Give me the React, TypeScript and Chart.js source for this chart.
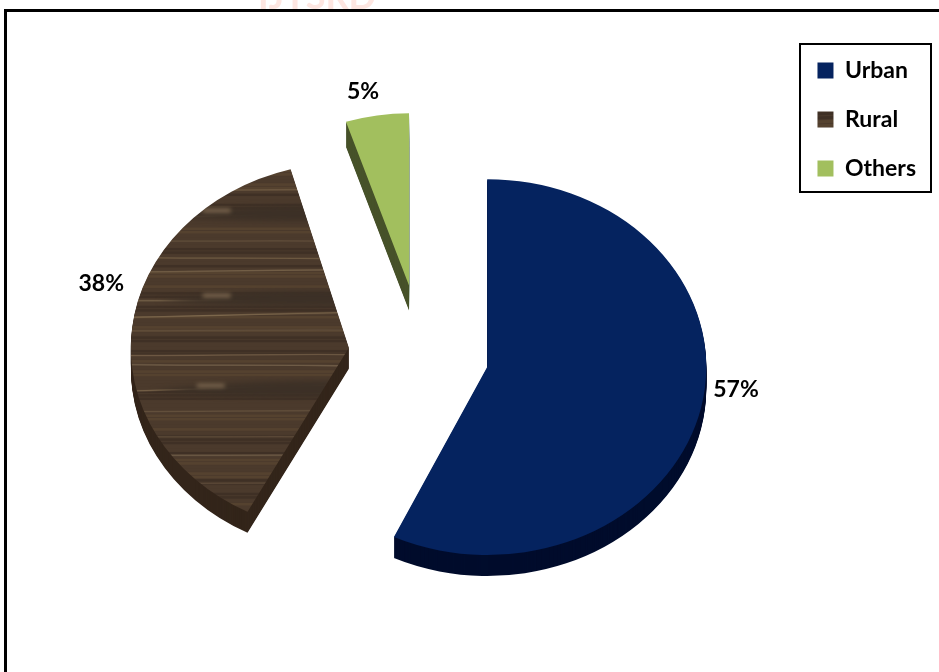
import React, { useEffect, useRef } from "react";
import { Chart, registerables } from "chart.js";

Chart.register(...registerables);

const categories = ["Urban", "Rural", "Others"];
const shares = [57, 38, 5];

const topColors = ["#05235f", "#4a392b", "#a2bf5e"];
const sideColors = ["#000c2c", "#33251a", "#47522a"];

// Tilted-pie drawing parameters, one entry per slice.
const explodeBy = [80, 60, 80];
const scaleX = [1.005, 1.0, 0.936];
const scaleY = [0.862, 0.85, 0.79];
const shiftX = [0, 0, 12];
const shiftY = [4, 3, 0];
const sliceTurnDeg = [0, 2.5, 0];
const sideDepth = [21, 21, 25];
const labelNudgeX = [35, -30, -14];
const labelNudgeY = [-18, -53, -24];

const textFont = '"Lato", "Open Sans", sans-serif';

// Grain streaks for the wood fill: [y, tilt, colour], in tile coordinates.
const grainLines: [number, number, string][] = [
  [150, 0, "#65513d"], [180, 0, "#6f5a42"], [210, -5, "#76624a"], [240, 1, "#604d3a"],
  [260, 2, "#6d5941"], [275, -1, "#735f47"], [310, 1, "#7a654b"], [327, -4, "#7c674c"],
  [345, 0, "#63503c"], [374, 0, "#6f5a44"], [386, 2, "#73604a"], [413, -5, "#7a654b"],
  [440, 0, "#63503c"], [470, 1, "#5f4c3a"], [492, 1, "#73604a"], [525, 0, "#5f4c3a"],
];
const grainKnots = [
  [263, 204],
  [263, 304],
  [257, 410],
];

// Wood-grain fill for the Rural slice: fine horizontal bands, streaks and knots.
function woodPattern(ctx: CanvasRenderingContext2D, turnDeg: number) {
  const tile = document.createElement("canvas");
  tile.width = 939;
  tile.height = 672;
  const g = tile.getContext("2d")!;
  g.fillStyle = "#4a392b";
  g.fillRect(0, 0, 939, 672);
  g.filter = "blur(0.7px)";
  for (let y = 0; y < 672; y += 4) {
    const wave = Math.sin(y * 0.37) + Math.sin(y * 0.113 + 1.2);
    g.fillStyle = wave > 0.7 ? "#55422f" : wave < -0.7 ? "#3f3025" : "#4b3a2c";
    g.fillRect(0, y, 939, 3);
  }
  g.lineWidth = 1.5;
  grainLines.forEach(([y, tilt, colour]) => {
    g.strokeStyle = colour;
    g.beginPath();
    g.moveTo(120, y - tilt);
    g.bezierCurveTo(220, y + 2, 320, y - 2, 430, y + tilt);
    g.stroke();
  });
  grainKnots.forEach(([x, y]) => {
    g.filter = "blur(3px)";
    g.fillStyle = "#3c3026";
    g.beginPath();
    g.moveTo(x - 60, y + 6);
    g.quadraticCurveTo(x + 80, y - 16, x + 250, y + 4);
    g.quadraticCurveTo(x + 80, y + 20, x - 60, y + 6);
    g.fill();
    g.filter = "blur(2px)";
    g.fillStyle = "#6e5b46";
    g.fillRect(x - 16, y - 3, 28, 6);
  });
  const pattern = ctx.createPattern(tile, "repeat")!;
  // Keep the grain level even though the slice itself is turned slightly.
  pattern.setTransform(new DOMMatrix().rotate(-turnDeg));
  return pattern;
}

const tiltedPie = {
  id: "tiltedPie",
  beforeDraw(chart: any) {
    const { ctx } = chart;
    ctx.save();
    ctx.fillStyle = "#ffffff";
    ctx.fillRect(0, 0, chart.width, chart.height);
    // faint stamp cut off by the top edge of the page
    ctx.fillStyle = "#fde6e1";
    ctx.font = `bold 36px ${textFont}`;
    ctx.textBaseline = "alphabetic";
    ctx.fillText("IJTSRD", 258, 9);
    // outer frame, open at the bottom
    ctx.strokeStyle = "#000000";
    ctx.lineWidth = 3;
    ctx.beginPath();
    ctx.moveTo(5.5, 672);
    ctx.lineTo(5.5, 10.5);
    ctx.lineTo(939, 10.5);
    ctx.stroke();
    ctx.restore();
  },
  beforeDatasetsDraw(chart: any) {
    const { ctx } = chart;
    const arcs = chart.getDatasetMeta(0).data;
    const paint = (arc: any, i: number, drop: number, fill: any) => {
      const mid = (arc.startAngle + arc.endAngle) / 2;
      ctx.save();
      ctx.translate(
        arc.x + shiftX[i] + scaleX[i] * explodeBy[i] * Math.cos(mid),
        arc.y + shiftY[i] + scaleY[i] * explodeBy[i] * Math.sin(mid) + drop
      );
      ctx.scale(scaleX[i], scaleY[i]);
      ctx.rotate((sliceTurnDeg[i] * Math.PI) / 180);
      ctx.translate(-arc.x, -arc.y);
      const saved = arc.options;
      arc.options = { ...saved, backgroundColor: fill };
      arc.draw(ctx);
      arc.options = saved;
      ctx.restore();
    };
    arcs.forEach((arc: any, i: number) => {
      for (let d = sideDepth[i]; d >= 1; d--) paint(arc, i, d, sideColors[i]);
      paint(arc, i, 0, arc.options.backgroundColor);
    });
    // value labels beside each slice
    ctx.save();
    ctx.fillStyle = "#000000";
    ctx.font = `bold 23px ${textFont}`;
    ctx.textAlign = "center";
    ctx.textBaseline = "middle";
    arcs.forEach((arc: any, i: number) => {
      const mid = (arc.startAngle + arc.endAngle) / 2;
      const reach = explodeBy[i] + arc.outerRadius;
      const x = arc.x + shiftX[i] + scaleX[i] * reach * Math.cos(mid) + labelNudgeX[i];
      const y = arc.y + shiftY[i] + scaleY[i] * reach * Math.sin(mid) + labelNudgeY[i];
      ctx.fillText(`${shares[i]}%`, x, y);
    });
    ctx.restore();
    return false;
  },
  afterDraw(chart: any) {
    // frame round the legend
    const { ctx } = chart;
    ctx.save();
    ctx.strokeStyle = "#000000";
    ctx.lineWidth = 2;
    ctx.strokeRect(800, 44, 131, 148);
    ctx.restore();
  },
};

export default function App() {
  const ref = useRef<HTMLCanvasElement>(null);
  useEffect(() => {
    const ctx = ref.current!.getContext("2d")!;
    const chart = new Chart(ctx, {
      type: "pie",
      data: {
        labels: categories,
        datasets: [
          {
            data: shares,
            backgroundColor: [topColors[0], woodPattern(ctx, sliceTurnDeg[1]), topColors[2]],
            borderWidth: 0,
            radius: 218,
          },
        ],
      },
      options: {
        responsive: false,
        animation: false,
        layout: { padding: { left: 26, right: 13, top: 33, bottom: 9 } },
        plugins: {
          tooltip: { enabled: false },
          legend: {
            position: "right",
            align: "start",
            labels: {
              boxWidth: 16,
              boxHeight: 16,
              padding: 26,
              color: "#000000",
              font: { family: textFont, size: 23, weight: "bold" },
            },
          },
        },
      },
      plugins: [tiltedPie],
    } as any);
    return () => chart.destroy();
  }, []);
  return (
    <div style={{ position: "fixed", left: 0, top: 0, width: 939, height: 672 }}>
      <canvas ref={ref} width={939} height={672} style={{ display: "block" }} />
    </div>
  );
}
